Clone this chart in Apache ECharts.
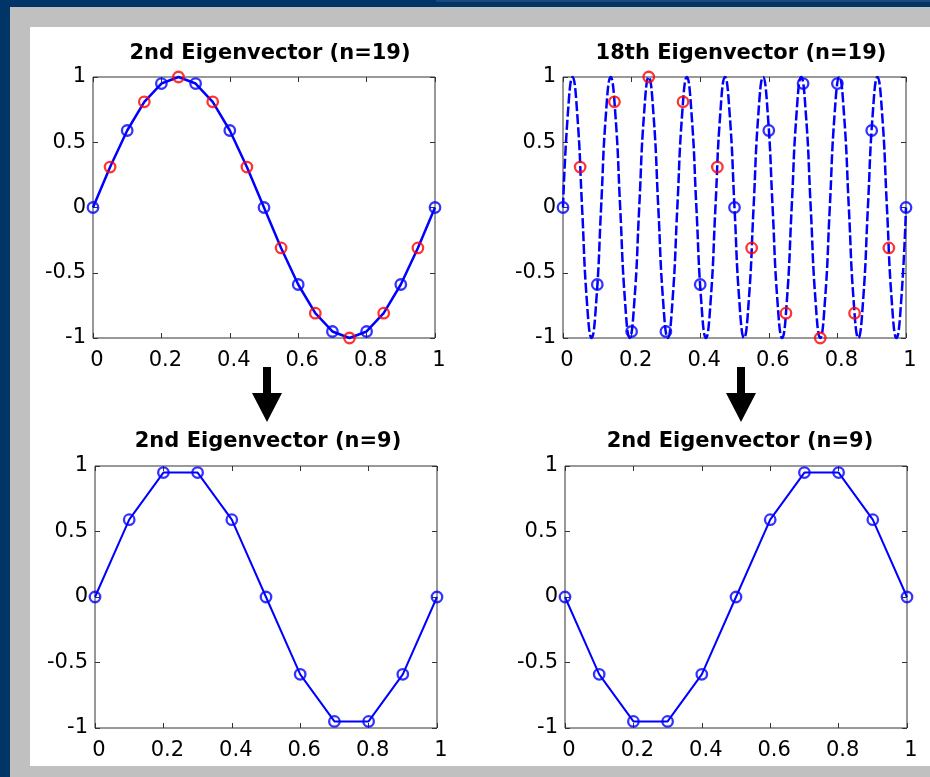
<!DOCTYPE html>
<html>
<head>
<meta charset="utf-8">
<script src="https://cdn.jsdelivr.net/npm/echarts@6/dist/echarts.min.js"></script>
<style>
  html, body { margin:0; padding:0; background:#013467; width:930px; height:777px; overflow:hidden; }
  #topline { position:absolute; left:436px; top:0; width:494px; height:2px; background:#1d4a7a; }
  #frame { position:absolute; left:10px; top:7px; width:920px; height:770px; background:#c0c0c0; }
  #panel { position:absolute; left:30px; top:27px; width:900px; height:739px; background:#ffffff; }
  #chart { position:absolute; left:0; top:0; width:930px; height:777px; }
</style>
</head>
<body>
<div id="topline"></div>
<div id="frame"></div>
<div id="panel"></div>
<div id="chart"></div>
<script>
// ---- data ----
const titles = ['2nd Eigenvector (n=19)', '18th Eigenvector (n=19)', '2nd Eigenvector (n=9)', '2nd Eigenvector (n=9)'];
const xTicks = [0, 0.2, 0.4, 0.6, 0.8, 1];
const yTicks = [-1, -0.5, 0, 0.5, 1];

// blue circles (grid points) and red circles (midpoints)
const xBlue = [0, 0.1, 0.2, 0.3, 0.4, 0.5, 0.6, 0.7, 0.8, 0.9, 1];
const xRed  = [0.05, 0.15, 0.25, 0.35, 0.45, 0.55, 0.65, 0.75, 0.85, 0.95];

// top-left: 2nd eigenvector, n=19
const yBlue2nd19 = [0, 0.59, 0.95, 0.95, 0.59, 0, -0.59, -0.95, -0.95, -0.59, 0];
const yRed2nd19  = [0.31, 0.81, 1, 0.81, 0.31, -0.31, -0.81, -1, -0.81, -0.31];

// top-right: 18th eigenvector, n=19
const yBlue18th19 = [0, -0.59, -0.95, -0.95, -0.59, 0, 0.59, 0.95, 0.95, 0.59, 0];
const yRed18th19  = [0.31, 0.81, 1, 0.81, 0.31, -0.31, -0.81, -1, -0.81, -0.31];
const xCurve18 = [0, 0.0139, 0.0278, 0.0417, 0.0556, 0.0694, 0.0833, 0.0972,
  0.1111, 0.125, 0.1389, 0.1528, 0.1667, 0.1806, 0.1944, 0.2083,
  0.2222, 0.2361, 0.25, 0.2639, 0.2778, 0.2917, 0.3056, 0.3194,
  0.3333, 0.3472, 0.3611, 0.375, 0.3889, 0.4028, 0.4167, 0.4306,
  0.4444, 0.4583, 0.4722, 0.4861, 0.5, 0.5139, 0.5278, 0.5417,
  0.5556, 0.5694, 0.5833, 0.5972, 0.6111, 0.625, 0.6389, 0.6528,
  0.6667, 0.6806, 0.6944, 0.7083, 0.7222, 0.7361, 0.75, 0.7639,
  0.7778, 0.7917, 0.8056, 0.8194, 0.8333, 0.8472, 0.8611, 0.875,
  0.8889, 0.9028, 0.9167, 0.9306, 0.9444, 0.9583, 0.9722, 0.9861, 1];
const yCurve18 = [0, 0.71, 1, 0.71, 0, -0.71, -1, -0.71,
  0, 0.71, 1, 0.71, 0, -0.71, -1, -0.71,
  0, 0.71, 1, 0.71, 0, -0.71, -1, -0.71,
  0, 0.71, 1, 0.71, 0, -0.71, -1, -0.71,
  0, 0.71, 1, 0.71, 0, -0.71, -1, -0.71,
  0, 0.71, 1, 0.71, 0, -0.71, -1, -0.71,
  0, 0.71, 1, 0.71, 0, -0.71, -1, -0.71,
  0, 0.71, 1, 0.71, 0, -0.71, -1, -0.71,
  0, 0.71, 1, 0.71, 0, -0.71, -1, -0.71, 0];

// bottom-left / bottom-right: 2nd eigenvector, n=9
const yLeft9  = [0, 0.59, 0.95, 0.95, 0.59, 0, -0.59, -0.95, -0.95, -0.59, 0];
const yRight9 = [0, -0.59, -0.95, -0.95, -0.59, 0, 0.59, 0.95, 0.95, 0.59, 0];

// ---- build chart ----
const BLUE = '#0000ff', RED = '#ff0000', AX = '#333333';
const FONT = 'DejaVu Sans';
const pairs = (xs, ys) => xs.map((x, i) => [x, ys[i]]);
const merged = (xa, ya, xb, yb) => pairs(xa, ya).concat(pairs(xb, yb)).sort((a, b) => a[0] - b[0]);

const grids = [
  { left: 93,  top: 77,  width: 342, height: 261 },
  { left: 563, top: 77,  width: 343, height: 261 },
  { left: 95,  top: 466, width: 342, height: 262 },
  { left: 565, top: 466, width: 342, height: 262 }
];
const titlePos = [ [270, 43], [741, 43], [268, 431], [740, 431] ];

const xStep = xTicks[1] - xTicks[0];
const yStep = yTicks[1] - yTicks[0];
const xAxes = [], yAxes = [];
grids.forEach((g, i) => {
  const tick = { show: true, inside: true, length: 5, lineStyle: { color: AX, width: 1 } };
  const line = { show: false, onZero: false };
  xAxes.push({ gridIndex: i, type: 'value', position: 'bottom', min: xTicks[0], max: xTicks[xTicks.length - 1], interval: xStep,
    axisLine: line, splitLine: { show: false }, axisTick: tick,
    axisLabel: { color: '#000', fontFamily: FONT, fontSize: 21, margin: 12, padding: [0, 0, 0, 8] } });
  xAxes.push({ gridIndex: i, type: 'value', position: 'top', min: xTicks[0], max: xTicks[xTicks.length - 1], interval: xStep,
    axisLine: line, splitLine: { show: false }, axisTick: tick, axisLabel: { show: false } });
  yAxes.push({ gridIndex: i, type: 'value', position: 'left', min: yTicks[0], max: yTicks[yTicks.length - 1], interval: yStep,
    axisLine: line, splitLine: { show: false }, axisTick: tick,
    axisLabel: { color: '#000', fontFamily: FONT, fontSize: 21, margin: 7 } });
  yAxes.push({ gridIndex: i, type: 'value', position: 'right', min: yTicks[0], max: yTicks[yTicks.length - 1], interval: yStep,
    axisLine: line, splitLine: { show: false }, axisTick: tick, axisLabel: { show: false } });
});

const circle = (color) => ({ color: 'rgba(0,0,0,0)', borderColor: color, borderWidth: 2.3 });
const scatter = (gi, data, color) => ({
  type: 'scatter', xAxisIndex: gi * 2, yAxisIndex: gi * 2, data, symbol: 'circle', symbolSize: 10.5,
  itemStyle: circle(color), clip: false, z: 5, silent: true
});
const line = (gi, data, extra) => Object.assign({
  type: 'line', xAxisIndex: gi * 2, yAxisIndex: gi * 2, data, showSymbol: false, clip: false,
  lineStyle: { color: BLUE, width: 2.5 }, z: 3, silent: true, animation: false
}, extra || {});

const series = [
  // top-left
  line(0, merged(xBlue, yBlue2nd19, xRed, yRed2nd19)),
  scatter(0, pairs(xBlue, yBlue2nd19), BLUE),
  scatter(0, pairs(xRed, yRed2nd19), RED),
  // top-right
  line(1, pairs(xCurve18, yCurve18), { smooth: true, lineStyle: { color: BLUE, width: 2.5, type: [10, 3] } }),
  scatter(1, pairs(xBlue, yBlue18th19), BLUE),
  scatter(1, pairs(xRed, yRed18th19), RED),
  // bottom-left
  line(2, pairs(xBlue, yLeft9), { lineStyle: { color: BLUE, width: 2 } }),
  scatter(2, pairs(xBlue, yLeft9), BLUE),
  // bottom-right
  line(3, pairs(xBlue, yRight9), { lineStyle: { color: BLUE, width: 2 } }),
  scatter(3, pairs(xBlue, yRight9), BLUE)
];

const arrow = (cx) => ({
  type: 'polygon', z: 100, silent: true,
  shape: { points: [[cx - 4, 367], [cx + 4, 367], [cx + 4, 393], [cx + 15, 393], [cx, 422], [cx - 15, 393], [cx - 4, 393]] },
  style: { fill: '#000' }
});

const option = {
  animation: false,
  backgroundColor: 'transparent',
  title: titles.map((t, i) => ({
    text: t, left: titlePos[i][0], top: titlePos[i][1], textAlign: 'center', padding: 0,
    textStyle: { fontFamily: FONT, fontWeight: 'bold', fontSize: 21, color: '#000' }
  })),
  grid: grids.map(g => Object.assign({ show: true, borderColor: AX, borderWidth: 1, backgroundColor: '#fff', containLabel: false }, g)),
  xAxis: xAxes,
  yAxis: yAxes,
  series,
  graphic: [arrow(267), arrow(741)]
};

const chart = echarts.init(document.getElementById('chart'), null, { renderer: 'canvas' });
chart.setOption(option);
</script>
</body>
</html>
